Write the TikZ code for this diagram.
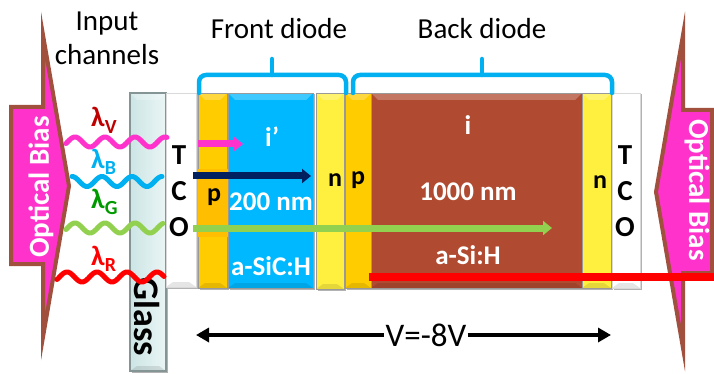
\documentclass[tikz,border=0pt]{standalone}
\usepackage{fontspec}
\setmainfont{Carlito}
\usepackage{xcolor}
\usepackage{tikz}
\usetikzlibrary{positioning,calc,arrows.meta,shadows}

\definecolor{biasfill}{HTML}{FF33CC}
\definecolor{biasline}{HTML}{A0503C}
\definecolor{braceblue}{HTML}{00B0F0}
\definecolor{glassleft}{HTML}{CDE5E5}
\definecolor{glassright}{HTML}{EAF5F5}
\definecolor{pfill}{HTML}{FFCC00}
\definecolor{pband}{HTML}{FFBE00}
\definecolor{ifront}{HTML}{00B8FF}
\definecolor{nfill}{HTML}{FFF040}
\definecolor{iback}{HTML}{B04A30}
\definecolor{navy}{HTML}{002060}
\definecolor{lgreen}{HTML}{92D050}
\newcommand{\lamsub}[1]{λ\raisebox{-6.5pt}{\fontsize{20}{20}\selectfont #1}}

\begin{document}
\begin{tikzpicture}[
    x=1pt, y=-1pt,
    bevel/.style={rectangle, draw=black!40, line width=0.6pt, inner sep=0pt, outer sep=0pt, minimum width=29pt, minimum height=195pt,
        drop shadow={shadow xshift=1.5pt, shadow yshift=-1.5pt, opacity=0.3, fill=black},
        path picture={
            \fill[white, opacity=0.25] (path picture bounding box.north west) -- (path picture bounding box.north east)
                -- ([shift={(-7pt,-7pt)}]path picture bounding box.north east) -- ([shift={(7pt,-7pt)}]path picture bounding box.north west) -- cycle;
            \fill[black, opacity=0.10] (path picture bounding box.south west) -- (path picture bounding box.south east)
                -- ([shift={(-7pt,5pt)}]path picture bounding box.south east) -- ([shift={(7pt,5pt)}]path picture bounding box.south west) -- cycle;
        }},
    layer/.style={bevel, fill=#1},
    bias/.style={draw=biasline, fill=biasfill, line width=4pt, miter limit=30},
    biastext/.style={text=white, font=\fontsize{29}{29}\selectfont\bfseries},
    title/.style={font=\fontsize{29}{34}\selectfont, align=center},
    letter/.style={font=\fontsize{29}{36}\selectfont\bfseries, align=center},
    doping/.style={font=\fontsize{26}{26}\selectfont\bfseries},
    inlayer/.style={text=white, font=\fontsize{27}{27}\selectfont\bfseries},
    lam/.style={font=\fontsize{28}{28}\selectfont\bfseries, anchor=base west, inner sep=0pt},
    wave/.style={line width=5pt, line cap=round, line join=round},
    beam/.style={line width=7pt, -{Triangle[length=9pt, width=14pt]}},
    brace/.style={draw=braceblue, line width=4.5pt, line cap=round, rounded corners=7pt}
]
\useasboundingbox (0,0) rectangle (714,374);

% Optical bias arrows
\draw [bias] (11,107) -- (43,107) -- (43,35) -- (69,186) -- (43,337) -- (43,264) -- (11,264) -- cycle;
\draw [bias] (712,110) -- (683,110) -- (683,35) -- (656,192) -- (683,348) -- (683,273) -- (712,273) -- cycle;
\node (biasleft) [biastext, rotate=90] at (41,187) {Optical Bias};
\node (biasright) [biastext, rotate=-90] at (697,190) {Optical Bias};

% Layers
\node (glass) [bevel, left color=glassleft, right color=glassright, draw=black!35!glassleft, line width=1.2pt, minimum width=36pt, minimum height=278pt, anchor=north west] at (130,93) {};
\node (tcofront) [layer=white, draw=black!15, minimum width=30pt, minimum height=194pt, below right=0pt and 0pt of glass.north east] {};
\node (pfront) [layer=pfill, below right=0pt and 2pt of tcofront.north east] {};
\node (ilayer) [layer=ifront, minimum width=85pt, below right=0pt and 1pt of pfront.north east] {};
\node (nfront) [layer=nfill, minimum width=28pt, minimum height=196pt, below right=0pt and 3pt of ilayer.north east] {};
\node (pback) [layer=pfill, minimum width=26pt, below right=0pt and 1pt of nfront.north east] {};
\node (iback) [layer=iback, minimum width=211pt, below right=0pt and 0pt of pback.north east] {};
\node (nback) [layer=nfill, below right=0pt and 0pt of iback.north east] {};
\node (tcoback) [layer=white, draw=black!15, minimum width=28pt, below right=0pt and 1pt of nback.north east] {};

% Layer labels
\node (glasslabel) [font=\fontsize{36}{36}\selectfont\bfseries, rotate=-90] at (147,317) {Glass};
\node (tcofrontlabel) [letter] at (179,191) {T\\C\\O};
\node (tcobacklabel) [letter] at (625,191) {T\\C\\O};
\node (pbandfront) [fill=pband, minimum width=30pt, minimum height=68pt, inner sep=0pt] at (213,203) {};
\node (plabel) [doping] at (214,197) {p};
\node (nfrontlabel) [doping] at (335,180) {n};
\node (pbacklabel) [doping] at (358,180) {p};
\node (nbacklabel) [doping] at (600,182) {n};
\node (iprime) [inlayer] at (272,137) {i’};
\node (thinfront) [inlayer] at (271,202) {200 nm};
\node (matfront) [inlayer] at (271,266) {a-SiC:H};
\node (ilabel) [inlayer] at (468,125) {i};
\node (thinback) [inlayer] at (468,192) {1000 nm};
\node (matback) [inlayer] at (468,255) {a-Si:H};

% Titles
\node (input) [title] at (107,38) {Input\\channels};
\node (frontdiode) [title] at (279,29) {Front diode};
\node (backdiode) [title] at (482,29) {Back diode};

% Braces
\draw [brace] (199,93) |- (272,75) -| (346,93);
\draw [brace] (272,75) -- (272,59);
\draw [brace] (353,93) |- (482,75) -| (612,93);
\draw [brace] (482,75) -- (482,59);

% Input channels
\draw [wave, draw=biasfill] plot [domain=66:167, samples=90] (\x, {142-5*cos(12*(\x-75))});
\draw [wave, draw=braceblue] plot [domain=72:162, samples=90] (\x, {181.5-5*cos(12*(\x-72))});
\draw [wave, draw=lgreen] plot [domain=66:163, samples=90] (\x, {228-5*cos(12*(\x-75))});
\draw [wave, draw=red] plot [domain=57:164, samples=90] (\x, {277-5*cos(12*(\x-67))});
\node (lamv) [lam, text=red!75!black] at (91,127) {\lamsub{V}};
\node (lamb) [lam, text=braceblue] at (91,168) {\lamsub{B}};
\node (lamg) [lam, text=green!60!black] at (91,208) {\lamsub{G}};
\node (lamr) [lam, text=red] at (91,265) {\lamsub{R}};

% Beams
\coordinate (vin) at (198,144); \coordinate (vout) at (243,144);
\coordinate (bin) at (193,176); \coordinate (bout) at (311,176);
\coordinate (gin) at (193,228); \coordinate (gout) at (552,228);
\coordinate (rin) at (369,277); \coordinate (rout) at (714,277);
\draw [beam, draw=biasfill, fill=biasfill] (vin) -- (vout);
\draw [beam, draw=navy, fill=navy] (bin) -- (bout);
\draw [beam, draw=lgreen, fill=lgreen] (gin) -- (gout);
\draw [draw=red, line width=8pt] (rin) -- (rout);

% Voltage
\node (volt) [inner sep=1pt, font=\fontsize{33}{33}\selectfont] at (426,335) {V=-8V};
\coordinate (vleft) at (196,335);
\coordinate (vright) at (611,335);
\draw [{Triangle[length=13pt, width=14pt]}-, line width=4pt] (vleft) -- (volt);
\draw [-{Triangle[length=13pt, width=14pt]}, line width=4pt] (volt) -- (vright);

\end{tikzpicture}
\end{document}
